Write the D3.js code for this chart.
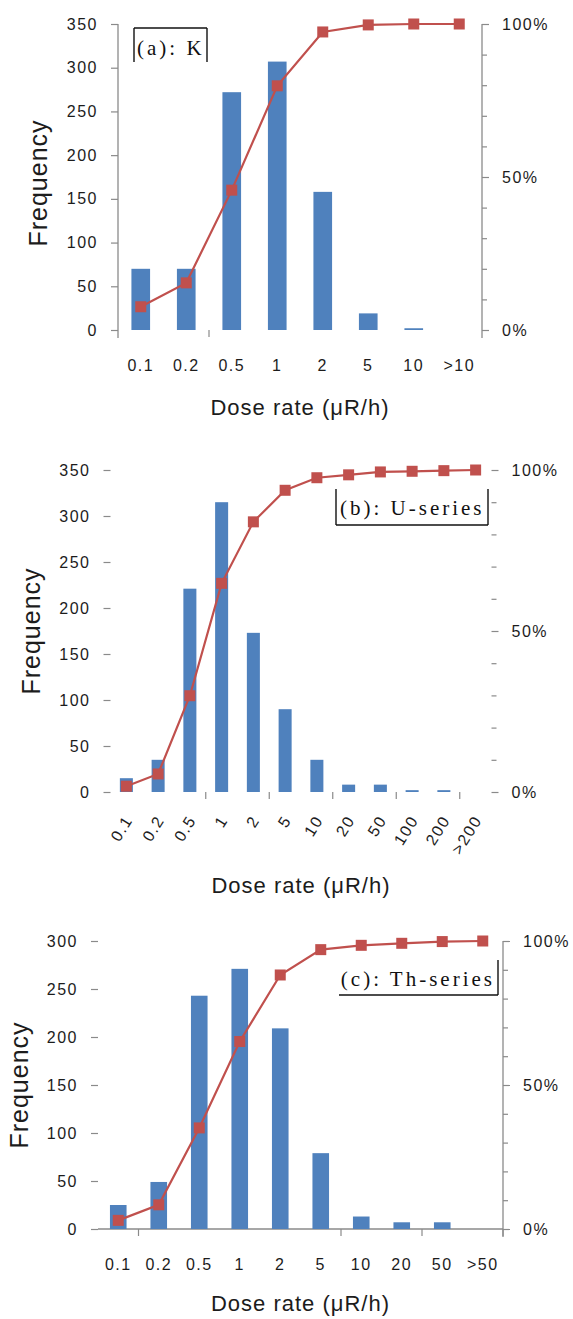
<!DOCTYPE html>
<html>
<head>
<meta charset="utf-8">
<script src="https://cdn.jsdelivr.net/npm/d3@7"></script>
<style>
  body { margin: 0; background: #fff; }
  svg { display: block; }
</style>
</head>
<body>
<svg id="fig" width="573" height="1319"></svg>
<script>
// ---- (a) K ----
const kCategories = ["0.1", "0.2", "0.5", "1", "2", "5", "10", ">10"];
const kFrequency  = [70, 70, 272, 307, 158, 19, 2, 0];
const kCumulative = [7.6, 15.4, 45.7, 79.8, 97.4, 99.7, 100, 100];

// ---- (b) U-series ----
const uCategories = ["0.1", "0.2", "0.5", "1", "2", "5", "10", "20", "50", "100", "200", ">200"];
const uFrequency  = [15, 35, 221, 315, 173, 90, 35, 8, 8, 2, 2, 0];
const uCumulative = [1.8, 5.6, 29.9, 64.8, 83.9, 93.7, 97.6, 98.5, 99.4, 99.6, 99.8, 100];

// ---- (c) Th-series ----
const thCategories = ["0.1", "0.2", "0.5", "1", "2", "5", "10", "20", "50", ">50"];
const thFrequency  = [25, 49, 243, 271, 209, 79, 13, 7, 7, 0];
const thCumulative = [3.0, 8.4, 35.1, 65.1, 88.2, 97.0, 98.5, 99.2, 99.8, 100];

// ---- axis ticks ----
const freqTicks350 = [0, 50, 100, 150, 200, 250, 300, 350];
const freqTicks300 = [0, 50, 100, 150, 200, 250, 300];
const pctTicks = [0, 50, 100];
const pctMinorTicks = [10, 20, 30, 40, 60, 70, 80, 90];
const xTitle = "Dose rate (\u03BCR/h)";
const yTitle = "Frequency";

const BAR = "#4F81BD", LINE = "#C0504D", AXIS = "#8a8a8a", INK = "#1c1c1c";
const SANS = "'Liberation Sans', Arial, sans-serif";
const SERIF = "'Liberation Serif', 'Times New Roman', serif";

const panels = [
  { label: "(a): K", cats: kCategories, freq: kFrequency, cum: kCumulative, fMax: 350, fTicks: freqTicks350,
    left: 118, right: 482, top: 24, bottom: 330,
    lines: { left: true, right: true, bottom: false }, catTicks: [2], rotate: 0,
    yTitleX: 47, yTitleShift: 6, titleGap: 85,
    box: { x: 134, y: 28, w: 73, h: 34, sides: "tlr", tx: 137, ty: 55, anchor: "start" } },
  { label: "(b): U-series", cats: uCategories, freq: uFrequency, cum: uCumulative, fMax: 350, fTicks: freqTicks350,
    left: 110.5, right: 491.5, top: 470, bottom: 792,
    lines: { left: false, right: false, bottom: false }, catTicks: [3, 5, 7, 9, 11], rotate: -58,
    yTitleX: 40, yTitleShift: 0, titleGap: 101,
    box: { x: 336, y: 489, w: 152, h: 36, sides: "lrb", tx: 340, ty: 515, anchor: "start" } },
  { label: "(c): Th-series", cats: thCategories, freq: thFrequency, cum: thCumulative, fMax: 300, fTicks: freqTicks300,
    left: 98, right: 503, top: 941, bottom: 1229,
    lines: { left: false, right: true, bottom: true }, catTicks: [1, 6, 8, 10], rotate: 0,
    yTitleX: 28, yTitleShift: 0, titleGap: 82,
    box: { x: 339, y: 960, w: 159, h: 35, sides: "rb", tx: 495, ty: 986, anchor: "end" } }
];

const svg = d3.select("#fig");
svg.append("rect").attr("width", 573).attr("height", 1319).attr("fill", "#fff");

panels.forEach(p => {
  const g = svg.append("g");

  const x = d3.scaleBand().domain(p.cats).range([p.left, p.right])
    .paddingInner(0.59).paddingOuter(0.295);
  const y = d3.scaleLinear().domain([0, p.fMax]).range([p.bottom, p.top]);
  const yp = d3.scaleLinear().domain([0, 100]).range([p.bottom, p.top]);
  const step = x.step();
  const cx = c => x(c) + x.bandwidth() / 2;

  // left (frequency) axis
  const la = g.append("g").attr("transform", `translate(${p.left},0)`)
    .call(d3.axisLeft(y).tickValues(p.fTicks).tickSize(7).tickPadding(13));
  la.select(".domain").remove();
  la.selectAll(".tick line").attr("stroke", AXIS).attr("stroke-width", 1.2);
  la.selectAll(".tick text").attr("fill", INK).style("font-family", SANS)
    .style("font-size", "16px").style("letter-spacing", "1.5px");

  // right (cumulative %) axis
  const ra = g.append("g").attr("transform", `translate(${p.right},0)`)
    .call(d3.axisRight(yp).tickValues(pctTicks).tickSize(7).tickPadding(13).tickFormat(d => d + "%"));
  ra.select(".domain").remove();
  ra.selectAll(".tick line").attr("stroke", AXIS).attr("stroke-width", 1.2);
  ra.selectAll(".tick text").attr("fill", INK).style("font-family", SANS)
    .style("font-size", "16px").style("letter-spacing", "1.5px");
  const rm = g.append("g").attr("transform", `translate(${p.right},0)`)
    .call(d3.axisRight(yp).tickValues(pctMinorTicks).tickSize(5).tickFormat(""));
  rm.select(".domain").remove();
  rm.selectAll(".tick line").attr("stroke", AXIS).attr("stroke-width", 1.2);

  // axis lines
  if (p.lines.left) g.append("line").attr("x1", p.left).attr("x2", p.left)
    .attr("y1", p.top).attr("y2", p.bottom + 8).attr("stroke", AXIS).attr("stroke-width", 1.3);
  if (p.lines.right) g.append("line").attr("x1", p.right).attr("x2", p.right)
    .attr("y1", p.top).attr("y2", p.bottom + 8).attr("stroke", AXIS).attr("stroke-width", 1.3);
  if (p.lines.bottom) g.append("line").attr("x1", p.left).attr("x2", p.right)
    .attr("y1", p.bottom).attr("y2", p.bottom).attr("stroke", AXIS).attr("stroke-width", 1.3);

  // category boundary ticks
  g.selectAll(".ctick").data(p.catTicks).join("line")
    .attr("x1", k => p.left + k * step).attr("x2", k => p.left + k * step)
    .attr("y1", p.bottom).attr("y2", p.bottom + 7)
    .attr("stroke", AXIS).attr("stroke-width", 1.2);

  // bars
  g.selectAll(".bar").data(p.cats).join("rect")
    .attr("x", c => x(c)).attr("width", x.bandwidth())
    .attr("y", (c, i) => y(p.freq[i]))
    .attr("height", (c, i) => Math.max(p.freq[i] > 0 ? 1.5 : 0, y(0) - y(p.freq[i])))
    .attr("fill", BAR);

  // cumulative line + square markers
  const pts = p.cats.map((c, i) => [cx(c), yp(p.cum[i])]);
  g.append("path").attr("d", d3.line()(pts)).attr("fill", "none")
    .attr("stroke", LINE).attr("stroke-width", 2.2);
  g.selectAll(".mk").data(pts).join("rect")
    .attr("x", d => d[0] - 5.5).attr("y", d => d[1] - 5.5)
    .attr("width", 11).attr("height", 11).attr("fill", LINE);

  // category labels
  const labs = g.selectAll(".clab").data(p.cats).join("text")
    .text(c => c).attr("fill", INK)
    .style("font-family", SANS).style("font-size", "16px").style("letter-spacing", "1.5px");
  if (p.rotate) {
    labs.attr("text-anchor", "end")
      .attr("transform", c => `translate(${cx(c) + 7},${p.bottom + 28}) rotate(${p.rotate})`);
  } else {
    labs.attr("text-anchor", "middle").attr("x", c => cx(c)).attr("y", p.bottom + 41);
  }

  // axis titles
  g.append("text").text(xTitle).attr("x", (p.left + p.right) / 2).attr("y", p.bottom + p.titleGap)
    .attr("text-anchor", "middle").attr("fill", INK)
    .style("font-family", SANS).style("font-size", "22px").style("letter-spacing", "1px");
  g.append("text").text(yTitle)
    .attr("transform", `translate(${p.yTitleX},${(p.top + p.bottom) / 2 + p.yTitleShift}) rotate(-90)`)
    .attr("text-anchor", "middle").attr("fill", INK)
    .style("font-family", SANS).style("font-size", "25px").style("letter-spacing", "1px");

  // panel label box
  const b = p.box;
  const segs = [];
  if (b.sides.includes("t")) segs.push([b.x, b.y, b.x + b.w, b.y]);
  if (b.sides.includes("b")) segs.push([b.x, b.y + b.h, b.x + b.w, b.y + b.h]);
  if (b.sides.includes("l")) segs.push([b.x, b.y, b.x, b.y + b.h]);
  if (b.sides.includes("r")) segs.push([b.x + b.w, b.y, b.x + b.w, b.y + b.h]);
  g.selectAll(".bx").data(segs).join("line")
    .attr("x1", d => d[0]).attr("y1", d => d[1]).attr("x2", d => d[2]).attr("y2", d => d[3])
    .attr("stroke", "#111").attr("stroke-width", 1.4);
  g.append("text").text(p.label).attr("x", b.tx).attr("y", b.ty)
    .attr("text-anchor", b.anchor).attr("fill", "#111")
    .style("font-family", SERIF).style("font-size", "21px").style("letter-spacing", "3px");
});
</script>
</body>
</html>
